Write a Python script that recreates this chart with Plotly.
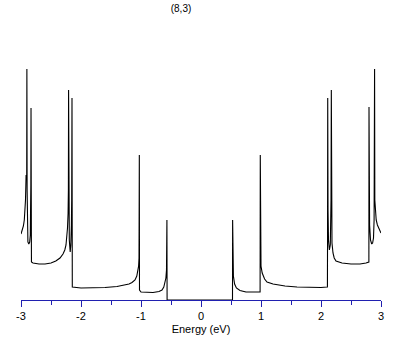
import plotly.graph_objects as go

# Energy (eV) and density of states (arb. units)
energy = [
    -3.00, -2.98, -2.96, -2.945, -2.935, -2.925, -2.915, -2.91, -2.905, -2.902,
    -2.898, -2.893, -2.885, -2.87, -2.855, -2.845, -2.84, -2.836, -2.833, -2.829,
    -2.826, -2.80, -2.70, -2.60, -2.50, -2.42, -2.35, -2.30, -2.27, -2.25,
    -2.235, -2.225, -2.215, -2.210, -2.207, -2.203, -2.195, -2.18, -2.17, -2.16,
    -2.155, -2.15, -2.147, -2.145, -2.0, -1.8, -1.6, -1.4, -1.3, -1.2,
    -1.15, -1.10, -1.07, -1.05, -1.04, -1.033, -1.028, -1.025, -1.0, -0.9,
    -0.8, -0.7, -0.65, -0.62, -0.60, -0.585, -0.575, -0.568, -0.565, 0.0,
    0.525, 0.527, 0.532, 0.54, 0.56, 0.59, 0.65, 0.75, 0.85, 0.95,
    0.985, 0.988, 0.992, 1.00, 1.02, 1.06, 1.10, 1.2, 1.3, 1.4,
    1.6, 1.8, 2.0, 2.10, 2.107, 2.109, 2.112, 2.117, 2.125, 2.14,
    2.155, 2.163, 2.167, 2.172, 2.176, 2.183, 2.20, 2.22, 2.25, 2.35,
    2.5, 2.65, 2.75, 2.78, 2.798, 2.800, 2.804, 2.81, 2.825, 2.845,
    2.86, 2.875, 2.885, 2.89, 2.893, 2.897, 2.905, 2.92, 2.94, 2.97,
    3.00,
]
dos = [
    0.66, 0.69, 0.74, 0.80, 0.88, 1.00, 1.25, 1.80, 1.20, 2.31,
    1.10, 0.70, 0.58, 0.56, 0.58, 0.65, 0.80, 1.15, 1.92, 0.90,
    0.38, 0.37, 0.36, 0.36, 0.37, 0.39, 0.42, 0.46, 0.50, 0.55,
    0.62, 0.72, 0.87, 1.10, 2.10, 0.90, 0.60, 0.48, 0.55, 0.75,
    1.00, 2.02, 0.60, 0.13, 0.12, 0.12, 0.125, 0.135, 0.145, 0.16,
    0.175, 0.20, 0.24, 0.29, 0.34, 0.42, 1.45, 0.10, 0.08, 0.075,
    0.075, 0.085, 0.10, 0.13, 0.17, 0.22, 0.30, 0.80, 0.0, 0.0,
    0.0, 0.80, 0.37, 0.24, 0.16, 0.12, 0.095, 0.08, 0.08, 0.08,
    0.08, 1.45, 0.42, 0.34, 0.27, 0.21, 0.18, 0.16, 0.15, 0.14,
    0.13, 0.125, 0.125, 0.13, 0.13, 0.60, 2.02, 0.90, 0.60, 0.50,
    0.55, 0.75, 1.00, 2.10, 0.80, 0.57, 0.47, 0.42, 0.39, 0.37,
    0.36, 0.36, 0.37, 0.38, 0.38, 1.93, 1.10, 0.75, 0.60, 0.56,
    0.57, 0.62, 0.80, 1.20, 2.31, 1.00, 0.85, 0.80, 0.75, 0.70,
    0.67,
]

title_text = "(8,3)"
x_title = "Energy (eV)"
tick_vals = [-3, -2, -1, 0, 1, 2, 3]
tick_text = ["-3", "-2", "-1", "0", "1", "2", "3"]

axis_blue = "#2020b0"
font_family = "Liberation Sans, DejaVu Sans, sans-serif"

fig = go.Figure()
fig.add_trace(go.Scatter(
    x=energy, y=dos, mode="lines",
    line=dict(color="black", width=1.1),
    showlegend=False, hoverinfo="skip",
))

fig.update_layout(
    width=409, height=345,
    margin=dict(l=21, r=28, t=30, b=45, autoexpand=False),
    paper_bgcolor="white", plot_bgcolor="white",
    font=dict(family=font_family, size=11, color="black"),
    title=dict(text=title_text, x=181 / 409, xanchor="center",
               y=1 - 8 / 345, yanchor="middle",
               font=dict(size=10, color="black")),
)
fig.update_xaxes(
    range=[-3, 3], showgrid=False, zeroline=False, automargin=False,
    showline=True, linecolor=axis_blue, linewidth=1,
    ticks="outside", ticklen=6, tickcolor=axis_blue, tickwidth=1,
    tickvals=tick_vals, ticktext=tick_text,
    tickfont=dict(size=11, color="black"),
    minor=dict(dtick=0.5, ticks="outside", ticklen=4, tickcolor=axis_blue, showgrid=False),
    title=dict(text=x_title, font=dict(size=11, color="black"), standoff=4),
)
fig.update_yaxes(range=[0, 2.70], visible=False, automargin=False)

fig.write_html("out.html", config={"displayModeBar": False},
               post_script="document.body.style.margin='0';")
